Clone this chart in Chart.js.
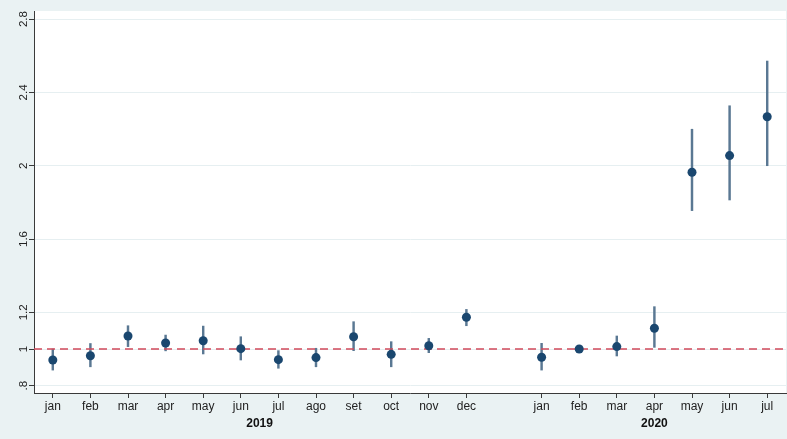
<!DOCTYPE html>
<html>
<head>
<meta charset="utf-8">
<script src="https://cdn.jsdelivr.net/npm/chart.js@4.4.1/dist/chart.umd.min.js"></script>
<style>
html,body{margin:0;padding:0;background:#eaf2f3;}
#wrap{width:787px;height:439px;}
</style>
</head>
<body>
<div id="wrap"><canvas id="c" width="787" height="439"></canvas></div>
<script>
// ---- data ----
const months2019 = ['jan','feb','mar','apr','may','jun','jul','ago','set','oct','nov','dec'];
const months2020 = ['jan','feb','mar','apr','may','jun','jul'];
const years = ['2019','2020'];
const est2019 = [0.94,0.963,1.071,1.033,1.045,1.002,0.942,0.953,1.067,0.971,1.018,1.173];
const lo2019  = [0.885,0.903,1.013,0.99,0.973,0.94,0.895,0.903,0.991,0.903,0.98,1.127];
const hi2019  = [1.0,1.03,1.127,1.076,1.125,1.067,0.991,1.004,1.149,1.04,1.058,1.216];
const est2020 = [0.955,1.0,1.013,1.113,1.964,2.055,2.267];
const lo2020  = [0.885,1.0,0.962,1.009,1.755,1.813,2.0];
const hi2020  = [1.031,1.0,1.071,1.231,2.199,2.327,2.571];
const yTicks = [0.8,1,1.2,1.6,2,2.4,2.8];
const yTickLabels = ['.8','1','1.2','1.6','2','2.4','2.8'];
const refValue = 1;

// ---- build positions (2019 months, one-slot gap, 2020 months) ----
const gap = 1;
const pos2019 = months2019.map((m,i)=>i);
const pos2020 = months2020.map((m,i)=>months2019.length + gap + i);
const allPos = pos2019.concat(pos2020);
const allLabels = months2019.concat(months2020);
const yearPos = [
  (pos2019[0]+pos2019[pos2019.length-1])/2,
  (pos2020[0]+pos2020[pos2020.length-1])/2
];
const xMin = allPos[0]-0.5, xMax = allPos[allPos.length-1]+0.5;

const points = pos2019.map((x,i)=>({x, y:est2019[i]})).concat(pos2020.map((x,i)=>({x, y:est2020[i]})));
const cis = pos2019.map((x,i)=>({x, y:[lo2019[i],hi2019[i]]})).concat(pos2020.map((x,i)=>({x, y:[lo2020[i],hi2020[i]]})));

const FONT = 'Liberation Sans, Arial, Helvetica, sans-serif';
const AXIS = '#3a3a3a';

const bgPlugin = {
  id:'bg',
  beforeDraw(chart){
    const {ctx, chartArea:a} = chart;
    ctx.save();
    ctx.fillStyle = '#eaf2f3';
    ctx.fillRect(0,0,chart.width,chart.height);
    ctx.fillStyle = '#ffffff';
    ctx.fillRect(a.left, a.top, a.right-a.left, a.bottom-a.top);
    ctx.restore();
  }
};

new Chart(document.getElementById('c'), {
  type: 'scatter',
  data: {
    datasets: [
      {
        type:'scatter', data: points, order:0,
        backgroundColor:'#1a476f', borderColor:'#1a476f',
        pointRadius:4.5, pointBorderWidth:0
      },
      {
        type:'line', order:1,
        data:[{x:xMin,y:refValue},{x:xMax,y:refValue}],
        borderColor:'#d1495b', borderWidth:1.6, borderDash:[8,5],
        pointRadius:0, fill:false
      },
      {
        type:'bar', order:2, data: cis,
        backgroundColor:'#5a7893', borderWidth:0,
        barThickness:1.8, grouped:false
      }
    ]
  },
  plugins:[bgPlugin],
  options: {
    responsive:false, animation:false, devicePixelRatio:1,
    events:[],
    layout:{autoPadding:false, padding:{top:11,right:1,left:0,bottom:0}},
    plugins:{legend:{display:false}, tooltip:{enabled:false}},
    scales:{
      x:{
        type:'linear', position:'bottom', min:xMin, max:xMax, offset:false,
        afterBuildTicks(s){ s.ticks = allPos.map(v=>({value:v})); },
        afterFit(s){ s.height = 21; s.paddingLeft = 0; s.paddingRight = 0; },
        ticks:{
          autoSkip:false, maxRotation:0, minRotation:0, padding:1,
          color:'#222', font:{family:FONT, size:12},
          callback(v){ const k = allPos.indexOf(v); return k>=0 ? allLabels[k] : ''; }
        },
        grid:{offset:false, drawOnChartArea:false, drawTicks:true, tickLength:5, tickColor:AXIS, color:AXIS},
        border:{display:true, color:AXIS, width:1}
      },
      x2:{
        type:'linear', position:'bottom', min:xMin, max:xMax, offset:false,
        afterBuildTicks(s){ s.ticks = yearPos.map(v=>({value:v})); },
        afterFit(s){ s.height = 25; s.paddingLeft = 0; s.paddingRight = 0; },
        ticks:{
          autoSkip:false, maxRotation:0, minRotation:0, padding:2,
          color:'#111', font:{family:FONT, size:12, weight:'bold'},
          callback(v){ const k = yearPos.indexOf(v); return k>=0 ? years[k] : ''; }
        },
        grid:{offset:false, display:false, drawTicks:false},
        border:{display:false}
      },
      y:{
        type:'linear', position:'left', min:0.76, max:2.844,
        afterBuildTicks(s){ s.ticks = yTicks.map(v=>({value:v})); },
        afterFit(s){ s.width = 34; },
        ticks:{
          autoSkip:false, minRotation:90, maxRotation:90, crossAlign:'center', padding:-3,
          color:'#222', font:{family:FONT, size:11.5},
          callback(v){ const k = yTicks.indexOf(v); return k>=0 ? yTickLabels[k] : ''; }
        },
        grid:{color:'#e6eff1', lineWidth:1, drawTicks:true, tickLength:5, tickColor:AXIS},
        border:{display:true, color:AXIS, width:1}
      }
    }
  }
});
</script>
</body>
</html>
